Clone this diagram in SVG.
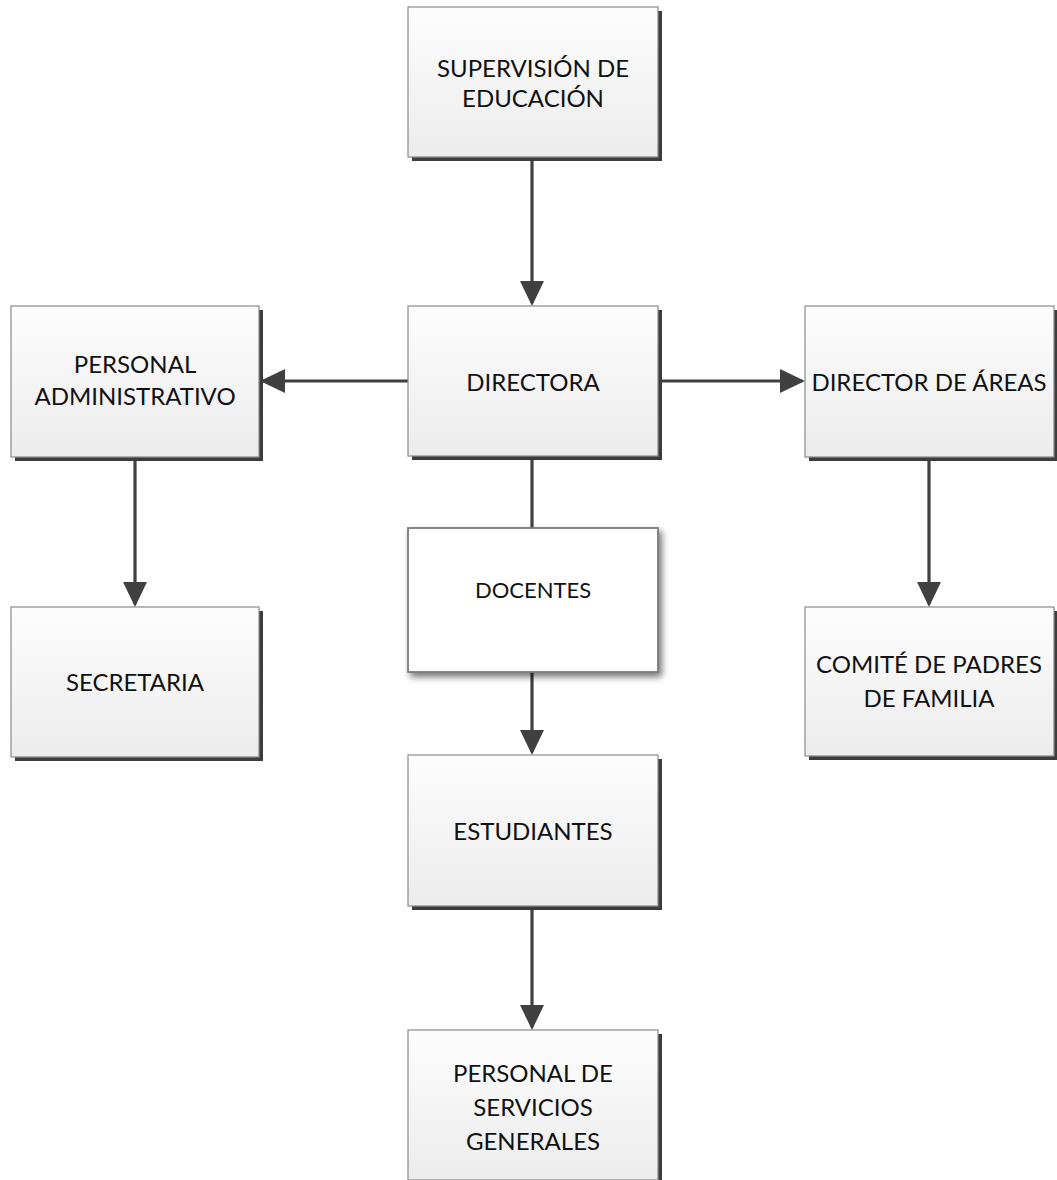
<svg xmlns="http://www.w3.org/2000/svg" width="1057" height="1180" viewBox="0 0 1057 1180">
<style>
.shadow{fill:#3c3c3c}
.box{fill:url(#g);stroke:#8a8a8a;stroke-width:1.2}
.wbox{fill:#ffffff;stroke:#7a7a7a;stroke-width:1.8}
.t{font-family:Lato,"Liberation Sans",Arial,sans-serif;font-size:24px;fill:#111;text-anchor:middle}
.ts{font-family:Lato,"Liberation Sans",Arial,sans-serif;font-size:22px;fill:#111;text-anchor:middle}
.c{stroke:#404040;stroke-width:3.2;fill:none}
.ca{stroke:#404040;stroke-width:3.2;fill:none;marker-end:url(#ah)}
</style>
<defs>
<linearGradient id="g" x1="0" y1="0" x2="0" y2="1">
<stop offset="0" stop-color="#fdfdfd"/>
<stop offset="1" stop-color="#ececec"/>
</linearGradient>
<filter id="soft" x="-10%" y="-10%" width="125%" height="130%">
<feGaussianBlur in="SourceAlpha" stdDeviation="3.5"/>
<feOffset dx="3" dy="4" result="b"/>
<feComponentTransfer><feFuncA type="linear" slope="0.55"/></feComponentTransfer>
<feMerge><feMergeNode/><feMergeNode in="SourceGraphic"/></feMerge>
</filter>
<marker id="ah" markerUnits="userSpaceOnUse" markerWidth="26" markerHeight="24" refX="22" refY="12" orient="auto">
<path d="M0,0 L25,12 L0,24 Z" fill="#404040"/>
</marker>
</defs>
<rect width="1057" height="1180" fill="#ffffff"/>

<g id="connectors">
<line class="ca" x1="532" y1="157" x2="532" y2="303"/>
<line class="ca" x1="408" y1="381" x2="263" y2="381"/>
<line class="ca" x1="658" y1="381" x2="802" y2="381"/>
<line class="ca" x1="135" y1="457" x2="135" y2="604"/>
<line class="ca" x1="929" y1="457" x2="929" y2="604"/>
<line class="c" x1="532" y1="456" x2="532" y2="528"/>
<line class="ca" x1="532" y1="672" x2="532" y2="752"/>
<line class="ca" x1="532" y1="906" x2="532" y2="1027"/>
</g>

<g id="supervision">
<rect class="shadow" x="412" y="11" width="250" height="150"/>
<rect class="box" x="408" y="7" width="250" height="150"/>
<text class="t" x="533" y="77">SUPERVISIÓN DE</text>
<text class="t" x="533" y="107">EDUCACIÓN</text>
</g>

<g id="directora">
<rect class="shadow" x="412" y="310" width="250" height="150"/>
<rect class="box" x="408" y="306" width="250" height="150"/>
<text class="t" x="533" y="391">DIRECTORA</text>
</g>

<g id="personal-administrativo">
<rect class="shadow" x="15" y="310" width="248" height="151"/>
<rect class="box" x="11" y="306" width="248" height="151"/>
<text class="t" x="135" y="373">PERSONAL</text>
<text class="t" x="135" y="405">ADMINISTRATIVO</text>
</g>

<g id="director-areas">
<rect class="shadow" x="809" y="310" width="249" height="151"/>
<rect class="box" x="805" y="306" width="249" height="151"/>
<text class="t" x="929" y="391">DIRECTOR DE ÁREAS</text>
</g>

<g id="secretaria">
<rect class="shadow" x="15" y="611" width="248" height="150"/>
<rect class="box" x="11" y="607" width="248" height="150"/>
<text class="t" x="135" y="691">SECRETARIA</text>
</g>

<g id="comite">
<rect class="shadow" x="809" y="611" width="249" height="149"/>
<rect class="box" x="805" y="607" width="249" height="149"/>
<text class="t" x="929" y="673">COMITÉ DE PADRES</text>
<text class="t" x="929" y="707">DE FAMILIA</text>
</g>

<g id="docentes">
<rect class="wbox" x="408" y="528" width="250" height="144" filter="url(#soft)"/>
<text class="ts" x="533" y="598">DOCENTES</text>
</g>

<g id="estudiantes">
<rect class="shadow" x="412" y="759" width="250" height="151"/>
<rect class="box" x="408" y="755" width="250" height="151"/>
<text class="t" x="533" y="840">ESTUDIANTES</text>
</g>

<g id="personal-servicios">
<rect class="shadow" x="412" y="1034" width="250" height="150"/>
<rect class="box" x="408" y="1030" width="250" height="150"/>
<text class="t" x="533" y="1082">PERSONAL DE</text>
<text class="t" x="533" y="1116">SERVICIOS</text>
<text class="t" x="533" y="1150">GENERALES</text>
</g>
</svg>
